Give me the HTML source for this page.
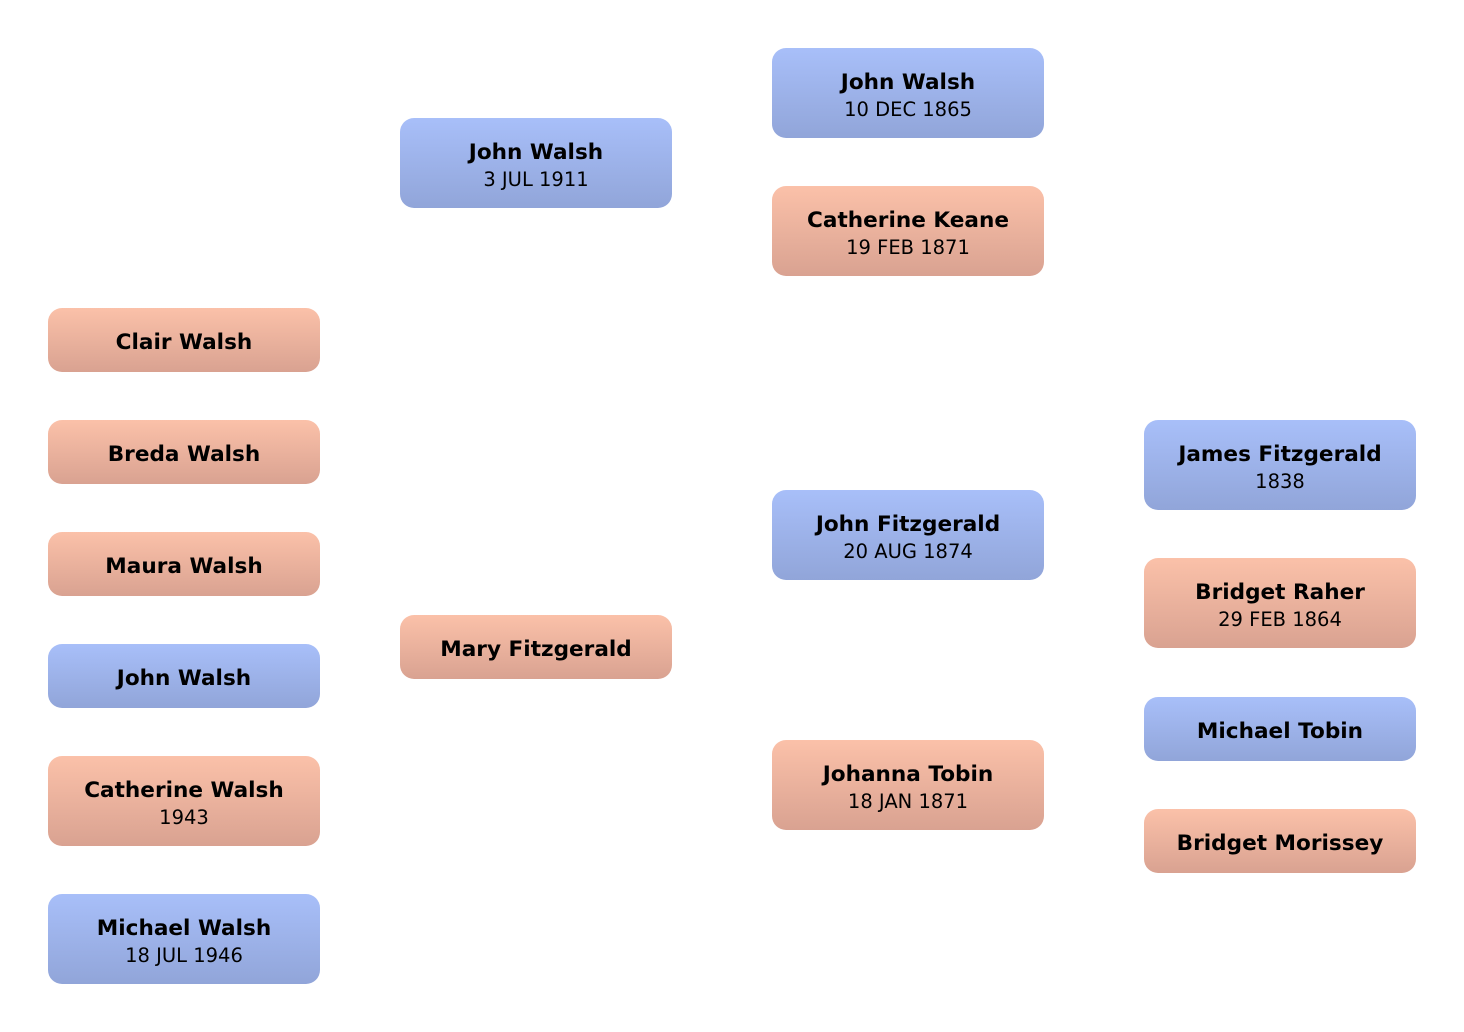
<!DOCTYPE html>
<html><head><style>
body{margin:0;width:1464px;height:1032px;background:#fff;position:relative;overflow:hidden;font-family:"DejaVu Sans","Liberation Sans",sans-serif;}
.b{position:absolute;width:272px;border-radius:14px;display:flex;flex-direction:column;align-items:center;justify-content:center;color:#000;box-sizing:border-box;padding-top:5px;}
.m{background:linear-gradient(#a8bff9,#91a5d9);}
.f{background:linear-gradient(#fbc1a9,#d9a291);}
.n{font-weight:bold;font-size:21.6px;line-height:28px;}
.d{font-size:19.5px;line-height:26px;}
.s{height:64px}.t{height:90px}
</style></head><body>
<div class="b f s" style="left:48px;top:308px"><div class="n">Clair Walsh</div></div>
<div class="b f s" style="left:48px;top:420px"><div class="n">Breda Walsh</div></div>
<div class="b f s" style="left:48px;top:532px"><div class="n">Maura Walsh</div></div>
<div class="b m s" style="left:48px;top:644px"><div class="n">John Walsh</div></div>
<div class="b f t" style="left:48px;top:756px"><div class="n">Catherine Walsh</div><div class="d">1943</div></div>
<div class="b m t" style="left:48px;top:894px"><div class="n">Michael Walsh</div><div class="d">18 JUL 1946</div></div>
<div class="b m t" style="left:400px;top:118px"><div class="n">John Walsh</div><div class="d">3 JUL 1911</div></div>
<div class="b f s" style="left:400px;top:615px"><div class="n">Mary Fitzgerald</div></div>
<div class="b m t" style="left:772px;top:48px"><div class="n">John Walsh</div><div class="d">10 DEC 1865</div></div>
<div class="b f t" style="left:772px;top:186px"><div class="n">Catherine Keane</div><div class="d">19 FEB 1871</div></div>
<div class="b m t" style="left:772px;top:490px"><div class="n">John Fitzgerald</div><div class="d">20 AUG 1874</div></div>
<div class="b f t" style="left:772px;top:740px"><div class="n">Johanna Tobin</div><div class="d">18 JAN 1871</div></div>
<div class="b m t" style="left:1144px;top:420px"><div class="n">James Fitzgerald</div><div class="d">1838</div></div>
<div class="b f t" style="left:1144px;top:558px"><div class="n">Bridget Raher</div><div class="d">29 FEB 1864</div></div>
<div class="b m s" style="left:1144px;top:697px"><div class="n">Michael Tobin</div></div>
<div class="b f s" style="left:1144px;top:809px"><div class="n">Bridget Morissey</div></div>
</body></html>
